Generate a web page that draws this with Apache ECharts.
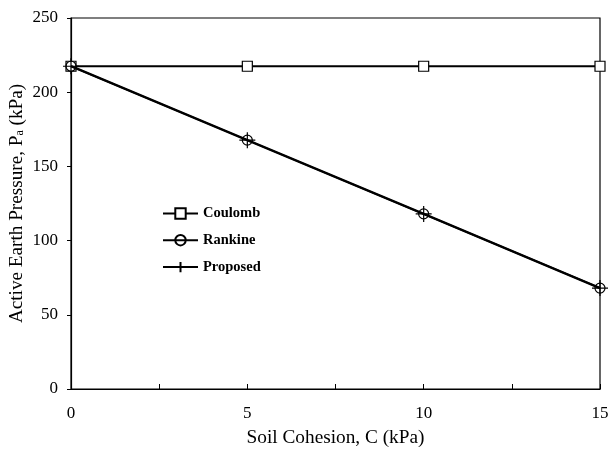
<!DOCTYPE html>
<html><head><meta charset="utf-8">
<script src="https://cdn.jsdelivr.net/npm/echarts@6/dist/echarts.min.js"></script>
<style>html,body{margin:0;padding:0;background:#fff}#c{width:608px;height:449px}</style>
</head><body><div id="c"></div>
<script>
const cohesion = [0, 5, 10, 15];
const coulomb = [217.5, 217.5, 217.5, 217.5];
const rankine = [217.5, 167.7, 118, 68];
const proposed = [217.5, 167.7, 118, 68];
const yTicks = [0, 50, 100, 150, 200, 250];
const xTicks = [0, 5, 10, 15];

const font = '"Liberation Serif", "Times New Roman", serif';
const pair = (xs, ys) => xs.map((x, i) => [x, ys[i]]);
const crossPath = 'path://M0,6 L12,6 M6,0 L6,12';

const chart = echarts.init(document.getElementById('c'), null, {renderer: 'canvas'});
chart.setOption({
  animation: false,
  backgroundColor: '#fff',
  grid: {left: 71, right: 8, top: 18, bottom: 60, containLabel: false, outerBoundsMode: 'none',
         show: true, borderColor: '#000', borderWidth: 1.2, backgroundColor: 'transparent'},
  legend: {
    orient: 'vertical', left: 157, top: 201, itemGap: 11.5, itemWidth: 35, itemHeight: 13,
    textStyle: {fontFamily: font, fontWeight: 'bold', fontSize: 14.5, color: '#000'},
    data: ['Coulomb', 'Rankine', 'Proposed']
  },
  xAxis: {
    type: 'value', min: 0, max: 15, interval: 5,
    name: 'Soil Cohesion, C (kPa)', nameLocation: 'middle', nameGap: 39, nameMoveOverlap: false,
    nameTextStyle: {fontFamily: font, fontSize: 19.3, color: '#000'},
    axisLine: {lineStyle: {color: '#000', width: 1.2}},
    axisTick: {inside: true, length: 5, lineStyle: {color: '#000'}},
    minorTick: {show: true, splitNumber: 2, length: 5, lineStyle: {color: '#000'}},
    axisLabel: {fontFamily: font, fontSize: 17, color: '#000', margin: 16, formatter: v => xTicks.includes(v) ? String(v) : ''},
    splitLine: {show: false}
  },
  yAxis: {
    type: 'value', min: 0, max: 250, interval: 50,
    name: '{t|Active Earth Pressure, P}{s|a}{t| (kPa)}', nameLocation: 'middle', nameGap: 45, nameMoveOverlap: false,
    nameTextStyle: {fontFamily: font, fontSize: 19.2, color: '#000',
      rich: {t: {fontFamily: font, fontSize: 19.2, color: '#000'}, s: {fontFamily: font, fontSize: 12, color: '#000', verticalAlign: 'bottom', padding: [7, 0, 0, 0]}}},
    axisLine: {show: true, lineStyle: {color: '#000', width: 1.2}},
    axisTick: {show: true, length: 4, lineStyle: {color: '#000'}},
    axisLabel: {fontFamily: font, fontSize: 17, color: '#000', margin: 13, formatter: v => yTicks.includes(v) ? String(v) : ''},
    splitLine: {show: false}
  },
  series: [
    {name: 'Coulomb', type: 'line', data: pair(cohesion, coulomb), symbol: 'rect', symbolSize: 10,
     lineStyle: {color: '#000', width: 1.8}, itemStyle: {color: '#fff', borderColor: '#000', borderWidth: 1.2}, z: 3},
    {name: 'Rankine', type: 'line', data: pair(cohesion, rankine), symbol: 'circle', symbolSize: 10,
     lineStyle: {color: '#000', width: 2.4}, itemStyle: {color: 'none', borderColor: '#000', borderWidth: 1.2}, z: 4},
    {name: 'Proposed', type: 'line', data: pair(cohesion, proposed), symbol: crossPath, symbolSize: 16,
     lineStyle: {color: '#000', width: 1.6}, itemStyle: {color: 'none', borderColor: '#000', borderWidth: 1.2}, z: 5}
  ]
});
</script></body></html>
